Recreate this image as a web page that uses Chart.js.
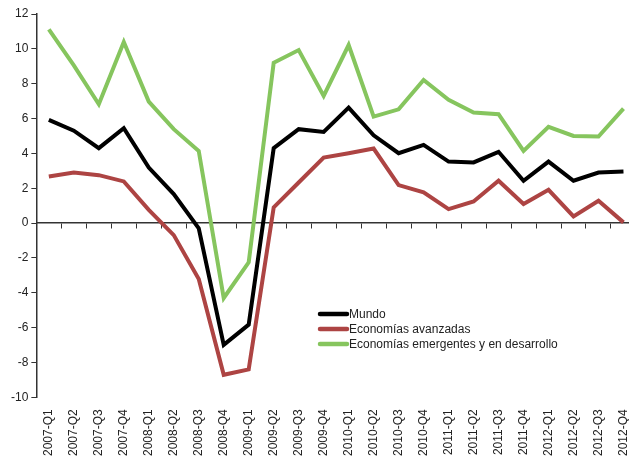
<!DOCTYPE html>
<html>
<head>
<meta charset="utf-8">
<script src="https://cdn.jsdelivr.net/npm/chart.js@4.4.0/dist/chart.umd.min.js"></script>
<style>
  html, body { margin: 0; padding: 0; background: #fff; overflow: hidden; }
  #grafico { display: block; }
</style>
</head>
<body>
<canvas id="grafico" width="642" height="463"></canvas>
<script>
const trimestres = [
  "2007-Q1", "2007-Q2", "2007-Q3", "2007-Q4",
  "2008-Q1", "2008-Q2", "2008-Q3", "2008-Q4",
  "2009-Q1", "2009-Q2", "2009-Q3", "2009-Q4",
  "2010-Q1", "2010-Q2", "2010-Q3", "2010-Q4",
  "2011-Q1", "2011-Q2", "2011-Q3", "2011-Q4",
  "2012-Q1", "2012-Q2", "2012-Q3", "2012-Q4"
];

const mundo = [5.92, 5.3, 4.3, 5.44, 3.19, 1.66, -0.3, -6.99, -5.83, 4.3, 5.39, 5.23,
  6.63, 5.04, 4.01, 4.49, 3.53, 3.48, 4.09, 2.43, 3.53, 2.43, 2.9, 2.96];

const avanzadas = [2.67, 2.9, 2.75, 2.39, 0.76, -0.69, -3.21, -8.71, -8.4, 0.9, 2.33, 3.76,
  4.01, 4.28, 2.18, 1.76, 0.8, 1.24, 2.43, 1.09, 1.91, 0.38, 1.28, 0.04];

const emergentes = [11.12, 9.05, 6.82, 10.39, 6.97, 5.39, 4.14, -4.3, -2.25, 9.2, 9.93, 7.3,
  10.22, 6.11, 6.53, 8.21, 7.07, 6.34, 6.25, 4.14, 5.52, 5.0, 4.97, 6.57];

const nomesSeries = ["Mundo", "Economías avanzadas", "Economías emergentes y en desarrollo"];
const coresSeries = ["#000000", "#ad4443", "#86c55e"];

const corEixo = "#333333";
const fonte = "'Liberation Sans', Arial, sans-serif";

// legenda desenhada dentro da área do gráfico
const legendaInterna = {
  id: 'legendaInterna',
  afterDraw(chart) {
    const ctx = chart.ctx;
    const x0 = 320, y0 = 314, passo = 15;
    ctx.save();
    ctx.font = "12px " + fonte;
    ctx.textBaseline = 'middle';
    chart.data.datasets.forEach((ds, i) => {
      const y = y0 + i * passo;
      ctx.strokeStyle = ds.borderColor;
      ctx.lineWidth = 4.5;
      ctx.lineCap = 'round';
      ctx.beginPath();
      ctx.moveTo(x0, y);
      ctx.lineTo(x0 + 27, y);
      ctx.stroke();
      ctx.fillStyle = '#222';
      ctx.fillText(ds.label, x0 + 29, y + 1);
    });
    ctx.restore();
  }
};

const ctx = document.getElementById('grafico').getContext('2d');

const grafico = new Chart(ctx, {
  type: 'line',
  data: {
    labels: trimestres,
    datasets: [
      { label: nomesSeries[0], data: mundo, borderColor: coresSeries[0] },
      { label: nomesSeries[1], data: avanzadas, borderColor: coresSeries[1] },
      { label: nomesSeries[2], data: emergentes, borderColor: coresSeries[2] }
    ].map(ds => Object.assign(ds, {
      borderWidth: 4,
      pointRadius: 0,
      tension: 0,
      fill: false,
      borderJoinStyle: 'miter'
    }))
  },
  options: {
    responsive: false,
    animation: false,
    layout: { padding: { left: 8, right: 6, top: 14, bottom: 3 } },
    plugins: {
      legend: { display: false },
      tooltip: { enabled: false }
    },
    scales: {
      x: {
        type: 'category',
        offset: true,
        grid: { display: false },
        border: { display: false },
        ticks: {
          minRotation: 90,
          maxRotation: 90,
          autoSkip: false,
          padding: 4,
          color: '#222',
          font: { family: fonte, size: 12 }
        }
      },
      eixoZero: {
        type: 'category',
        axis: 'x',
        position: { y: 0 },
        offset: true,
        grid: {
          display: true,
          drawOnChartArea: false,
          drawTicks: true,
          tickLength: 5,
          offset: true,
          color: corEixo,
          lineWidth: 1
        },
        border: { display: true, color: corEixo, width: 1.5 },
        ticks: { display: false }
      },
      y: {
        min: -10,
        max: 12,
        ticks: {
          stepSize: 2,
          padding: 3,
          color: '#222',
          font: { family: fonte, size: 12 }
        },
        grid: {
          drawOnChartArea: false,
          drawTicks: true,
          tickLength: 5,
          color: corEixo
        },
        border: { display: true, color: corEixo, width: 1.5 }
      }
    }
  },
  plugins: [legendaInterna]
});
</script>
</body>
</html>
